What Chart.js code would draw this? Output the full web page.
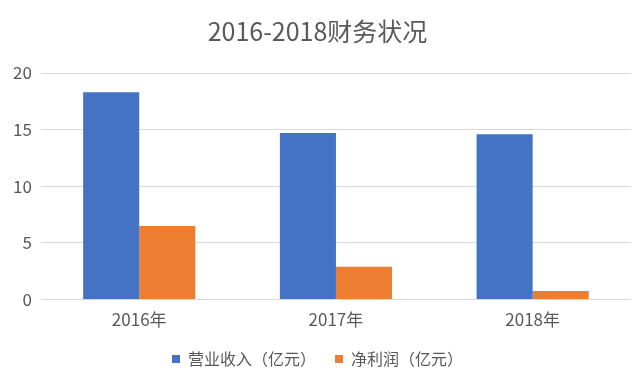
<!DOCTYPE html>
<html>
<head>
<meta charset="utf-8">
<script src="https://cdn.jsdelivr.net/npm/chart.js@4"></script>
<style>
    html, body { margin: 0; padding: 0; background: #fff; }
    #wrap { width: 640px; height: 382px; }
</style>
</head>
<body>
<div id="wrap"><canvas id="myChart"></canvas></div>
<script>
// 数据
const years = ['2016年', '2017年', '2018年'];
const revenue = [18.3, 14.7, 14.6];
const netProfit = [6.5, 2.9, 0.75];
const seriesNames = ['营业收入（亿元）', '净利润（亿元）'];

const font = '"Noto Sans CJK SC", "Noto Sans", sans-serif';
const gray = '#595959';

const ctx = document.getElementById('myChart').getContext('2d');
new Chart(ctx, {
    type: 'bar',
    data: {
        labels: years,
        datasets: [{
            label: seriesNames[0],
            data: revenue,
            backgroundColor: '#4472C4'
        }, {
            label: seriesNames[1],
            data: netProfit,
            backgroundColor: '#ED7D31'
        }]
    },
    options: {
        responsive: true,
        maintainAspectRatio: false,
        animation: false,
        layout: {
            padding: { left: 4, right: 9, top: 8, bottom: 5 }
        },
        datasets: {
            bar: {
                categoryPercentage: 0.57,
                barPercentage: 1.0
            }
        },
        plugins: {
            title: {
                display: true,
                text: '2016-2018财务状况',
                color: gray,
                font: { family: font, size: 25, weight: 'normal' },
                padding: { top: 8, bottom: 27 }
            },
            legend: {
                position: 'bottom',
                labels: {
                    color: gray,
                    font: { family: font, size: 16 },
                    boxWidth: 8,
                    boxHeight: 8,
                    padding: 19
                }
            },
            tooltip: { enabled: false }
        },
        scales: {
            x: {
                grid: { display: false },
                border: { display: false },
                ticks: {
                    color: gray,
                    font: { family: font, size: 17 },
                    padding: 2
                }
            },
            y: {
                min: 0,
                max: 20,
                ticks: {
                    stepSize: 5,
                    color: gray,
                    font: { family: font, size: 17 },
                    padding: 9
                },
                grid: { color: '#d9d9d9', drawTicks: false },
                border: { display: false }
            }
        }
    }
});
</script>
</body>
</html>
